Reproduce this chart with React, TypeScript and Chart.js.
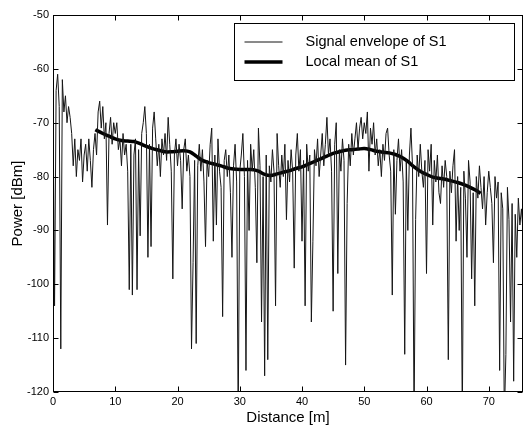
import React, { useEffect, useRef } from "react";
import { Chart, registerables } from "chart.js";

Chart.register(...registerables);

// Sampling grid of the envelope (distance in metres)
const DIST_START = 0;
const DIST_STEP = 0.25;

// Signal envelope of S1 [dBm], one value per sample position
const ENVELOPE: number[] = [
  -66, -104, -64, -61, -67, -112, -62, -68, -65, -70, -67, -69, -72,
  -78, -73, -80, -75, -77, -73, -81, -76, -74, -79, -73, -77, -82, -75, -72, -76,
  -68, -66, -71, -67, -73, -70, -89, -72, -69, -74, -70, -72,
  -70, -75, -73, -78, -72, -76, -74, -79, -101, -74, -102, -76, -73, -101, -75, -91, -72, -70, -67, -72,
  -95, -74, -93, -71, -68, -73, -78, -74, -80, -73, -76, -72, -77, -69, -74, -79, -99, -76, -73, -78,
  -74, -77, -86, -75, -73, -79, -76, -80, -112, -96, -77, -111, -78, -74, -79, -75, -81, -93, -77, -80,
  -74, -71, -92, -76, -89, -73, -79, -82, -106, -77, -75, -80, -76, -83, -95, -78, -74, -81, -125, -79,
  -76, -72, -80, -116, -77, -90, -74, -79, -75, -82, -96, -71, -78, -107, -80, -117, -76, -114, -78, -81,
  -75, -79, -104, -72, -78, -82, -76, -80, -74, -88, -77, -81, -75, -79, -97, -76, -72, -79, -75, -92,
  -77, -104, -74, -79, -76, -107, -92, -75, -78, -73, -80, -76, -72, -78, -74, -69, -76, -73, -79, -105,
  -74, -70, -98, -75, -79, -73, -77, -115, -85, -74, -78, -72, -76, -73, -70, -75, -71, -69, -73, -70,
  -72, -68, -79, -71, -74, -70, -76, -73, -78, -75, -80, -74, -77, -72, -71, -76, -79, -102, -75, -87,
  -77, -73, -79, -75, -81, -113, -77, -90, -76, -71, -78, -125, -88, -76, -80, -74, -79, -82, -77, -98,
  -75, -79, -74, -89, -77, -81, -76, -83, -85, -78, -82, -77, -80, -114, -79, -83, -78, -75, -92, -80,
  -90, -82, -125, -79, -84, -95, -77, -81, -99, -83, -104, -80, -84, -78, -82, -86, -80, -89, -83, -79,
  -82, -85, -96, -80, -84, -81, -116, -83, -86, -125, -113, -82, -88, -107, -85, -118, -87, -95, -84, -89, -86, -90,
];

// Local mean of S1
const MEAN_DIST: number[] = [
  6.8, 8, 9, 10, 11, 12, 13, 14, 15, 16, 17, 18, 19, 20, 21, 22, 23, 24, 25, 26, 27, 28, 29, 30,
  31, 32, 33, 34, 35, 36, 37, 38, 39, 40, 41, 42, 43, 44, 45, 46, 47, 48, 49, 50, 51, 52, 53, 54,
  55, 56, 57, 58, 59, 60, 61, 62, 63, 64, 65, 66, 67, 68, 68.7,
];
const MEAN_POWER: number[] = [
  -71.3, -72.0, -72.5, -73.0, -73.3, -73.4, -73.5, -73.9, -74.4, -74.8, -75.1, -75.4, -75.4, -75.3,
  -75.2, -75.4, -76.2, -77.0, -77.4, -77.7, -78.0, -78.4, -78.6, -78.7, -78.7, -78.7, -79.0, -79.6,
  -79.8, -79.5, -79.2, -78.9, -78.5, -78.2, -77.7, -77.2, -76.7, -76.2, -75.7, -75.4, -75.1, -75.0,
  -74.9, -74.8, -75.0, -75.3, -75.5, -75.6, -75.9, -76.4, -77.2, -78.2, -79.0, -79.6, -80.1, -80.3,
  -80.5, -80.8, -81.1, -81.5, -82.0, -82.6, -83.1,
];

const SERIES_LABELS = ["Signal envelope of S1", "Local mean of S1"];
const X_TITLE = "Distance [m]";
const Y_TITLE = "Power [dBm]";
const X_MIN = 0;
const X_MAX = 75.5;
const Y_MIN = -120;
const Y_MAX = -50;
const TICK_STEP = 10;

const FONT = "'Liberation Sans', Arial, sans-serif";
const ENV_COLOR = "#151515";
const MEAN_COLOR = "#000000";

const framePlugin = {
  id: "frame",
  afterDatasetsDraw(chart: any) {
    const { ctx, chartArea: a, scales } = chart;
    const L = Math.round(a.left) + 0.5;
    const R = Math.round(a.right) - 0.5;
    const T = Math.round(a.top) + 0.5;
    const B = Math.round(a.bottom) - 0.5;
    ctx.save();
    ctx.strokeStyle = "#000";
    ctx.lineWidth = 1;
    ctx.strokeRect(L, T, R - L, B - T);
    const tl = 5;
    ctx.beginPath();
    scales.x.ticks.forEach((t: any) => {
      const px = Math.round(scales.x.getPixelForValue(t.value)) + 0.5;
      ctx.moveTo(px, B);
      ctx.lineTo(px, B - tl);
      ctx.moveTo(px, T);
      ctx.lineTo(px, T + tl);
    });
    scales.y.ticks.forEach((t: any) => {
      const py = Math.round(scales.y.getPixelForValue(t.value)) + 0.5;
      ctx.moveTo(L, py);
      ctx.lineTo(L + tl, py);
      ctx.moveTo(R, py);
      ctx.lineTo(R - tl, py);
    });
    ctx.stroke();

    // legend box
    const bx = Math.round(a.right) - 288.5;
    const by = Math.round(a.top) + 8.5;
    const bw = 280;
    const bh = 57;
    ctx.fillStyle = "#fff";
    ctx.fillRect(bx, by, bw, bh);
    ctx.strokeStyle = "#000";
    ctx.lineWidth = 1;
    ctx.strokeRect(bx, by, bw, bh);
    const ds = chart.data.datasets;
    const rows = [by + 18.5, by + 38.5];
    ds.forEach((d: any, i: number) => {
      ctx.beginPath();
      ctx.strokeStyle = d.borderColor;
      ctx.lineWidth = d.borderWidth;
      ctx.moveTo(bx + 10, rows[i]);
      ctx.lineTo(bx + 48, rows[i]);
      ctx.stroke();
      ctx.fillStyle = "#000";
      ctx.font = `14.5px ${FONT}`;
      ctx.textBaseline = "middle";
      ctx.textAlign = "left";
      ctx.fillText(d.label, bx + 71, rows[i]);
    });
    ctx.restore();
  },
};

export default function App() {
  const ref = useRef<HTMLCanvasElement | null>(null);
  useEffect(() => {
    if (!ref.current) return;
    const envPoints = ENVELOPE.map((v, i) => ({ x: DIST_START + i * DIST_STEP, y: v }));
    const meanPoints = MEAN_DIST.map((d, i) => ({ x: d, y: MEAN_POWER[i] }));
    const chart = new Chart(ref.current, {
      type: "line",
      data: {
        datasets: [
          {
            label: SERIES_LABELS[0],
            data: envPoints,
            borderColor: ENV_COLOR,
            borderWidth: 1,
            pointRadius: 0,
            tension: 0,
            fill: false,
          },
          {
            label: SERIES_LABELS[1],
            data: meanPoints,
            borderColor: MEAN_COLOR,
            borderWidth: 3.5,
            pointRadius: 0,
            tension: 0.3,
            fill: false,
          },
        ],
      },
      options: {
        animation: false,
        responsive: false,
        devicePixelRatio: 1,
        parsing: false,
        layout: { padding: { top: 15, right: 3, left: 0, bottom: 0 } },
        plugins: { legend: { display: false }, tooltip: { enabled: false } },
        scales: {
          x: {
            type: "linear",
            min: X_MIN,
            max: X_MAX,
            grid: { display: false, drawTicks: false },
            border: { display: false },
            ticks: {
              stepSize: TICK_STEP,
              includeBounds: false,
              color: "#000",
              padding: 3,
              maxRotation: 0,
              font: { family: FONT, size: 11 },
            },
            title: {
              display: true,
              text: X_TITLE,
              color: "#000",
              font: { family: FONT, size: 15 },
              padding: { top: 0, bottom: -2 },
            },
            afterFit: (s: any) => {
              s.height = 33;
            },
          },
          y: {
            type: "linear",
            min: Y_MIN,
            max: Y_MAX,
            grid: { display: false, drawTicks: false },
            border: { display: false },
            ticks: {
              stepSize: TICK_STEP,
              color: "#000",
              padding: 4,
              font: { family: FONT, size: 11 },
            },
            title: {
              display: true,
              text: Y_TITLE,
              color: "#000",
              font: { family: FONT, size: 15 },
              padding: { top: 9, bottom: 0 },
            },
            afterFit: (s: any) => {
              s.width = 53;
            },
          },
        },
      },
      plugins: [framePlugin],
    });
    return () => chart.destroy();
  }, []);
  return (
    <div style={{ position: "absolute", left: 0, top: 0, width: 526, height: 425, background: "#fff" }}>
      <canvas ref={ref} width={526} height={425} style={{ width: 526, height: 425 }} />
    </div>
  );
}
